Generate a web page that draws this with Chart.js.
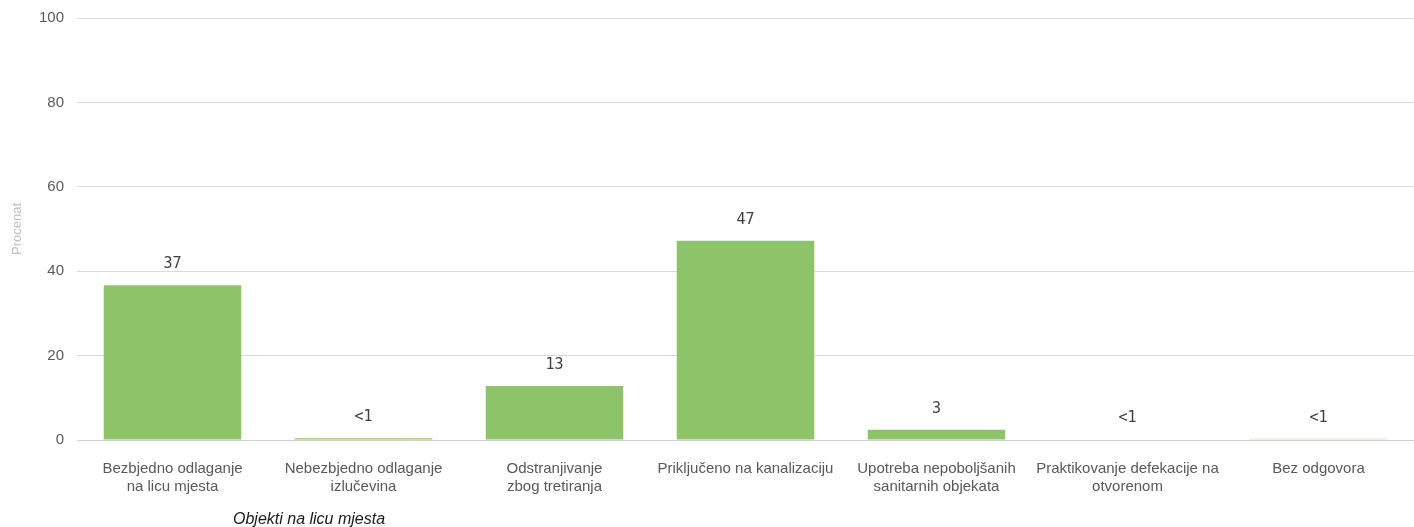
<!DOCTYPE html>
<html>
<head>
<meta charset="utf-8">
<script src="https://cdn.jsdelivr.net/npm/chart.js@4/dist/chart.umd.min.js"></script>
<style>
  html, body { margin: 0; padding: 0; background: #fff; }
  #wrap { width: 1414px; height: 527px; }
</style>
</head>
<body>
<div id="wrap"><canvas id="objekti"></canvas></div>
<script>
const categories = [
    ["Bezbjedno odlaganje", "na licu mjesta"],
    ["Nebezbjedno odlaganje", "izlučevina"],
    ["Odstranjivanje", "zbog tretiranja"],
    "Priključeno na kanalizaciju",
    ["Upotreba nepoboljšanih", "sanitarnih objekata"],
    ["Praktikovanje defekacije na", "otvorenom"],
    "Bez odgovora",
];
const values = [36.7, 0.4, 12.8, 47.2, 2.4, 0.1, 0.3];
const valueLabels = ["37", "<1", "13", "47", "3", "<1", "<1"];
const barColors = ["#8DC46A", "#8DC46A", "#8DC46A", "#8DC46A", "#8DC46A", "#8DC46A", "#D6E3CB"];
const yTicks = [0, 20, 40, 60, 80, 100];

const ctx = document.getElementById("objekti");

Chart.defaults.font.family = "'Liberation Sans', Arial, sans-serif";
Chart.defaults.color = "#595959";

// value labels above bars + italic caption under the axis
const barLabels = {
    id: "barLabels",
    afterDatasetsDraw(chart) {
        const c = chart.ctx;
        const meta = chart.getDatasetMeta(0);
        c.save();
        c.font = "15px 'DejaVu Sans Mono', monospace";
        c.fillStyle = "#404040";
        c.textAlign = "center";
        c.textBaseline = "middle";
        meta.data.forEach((bar, i) => {
            c.fillText(valueLabels[i], bar.x, bar.y - 21);
        });
        c.font = "italic 16px 'Liberation Sans', Arial, sans-serif";
        c.fillStyle = "#1a1a1a";
        c.textAlign = "left";
        c.fillText("Objekti na licu mjesta", 233, chart.height - 7);
        c.restore();
    },
};

new Chart(ctx, {
    type: "bar",
    data: {
        labels: categories,
        datasets: [
            {
                data: values,
                backgroundColor: barColors,
                barPercentage: 0.72,
                categoryPercentage: 1,
            },
        ],
    },
    options: {
        responsive: true,
        maintainAspectRatio: false,
        animation: false,
        layout: {
            padding: { top: 18, right: 0, bottom: 0, left: 0 },
        },
        plugins: {
            legend: { display: false },
            tooltip: { enabled: false },
        },
        scales: {
            x: {
                grid: { display: false },
                border: { color: "#D0D0D0" },
                ticks: {
                    font: { size: 15 },
                    color: "#595959",
                    padding: 12,
                    maxRotation: 0,
                    autoSkip: false,
                },
                afterFit(scale) {
                    scale.height = 87;
                },
            },
            y: {
                min: 0,
                max: 100,
                afterBuildTicks(scale) {
                    scale.ticks = yTicks.map((v) => ({ value: v }));
                },
                grid: { color: "#D9D9D9", drawTicks: false },
                border: { display: false },
                ticks: {
                    font: { size: 15 },
                    color: "#595959",
                    padding: 13,
                },
                title: {
                    display: true,
                    text: "Procenat",
                    color: "#BFBFBF",
                    font: { size: 13 },
                    padding: { top: 10, bottom: 0 },
                },
                afterFit(scale) {
                    scale.width = 77;
                    scale.paddingTop = 0;
                    scale.paddingBottom = 0;
                },
            },
        },
    },
    plugins: [barLabels],
});
</script>
</body>
</html>
